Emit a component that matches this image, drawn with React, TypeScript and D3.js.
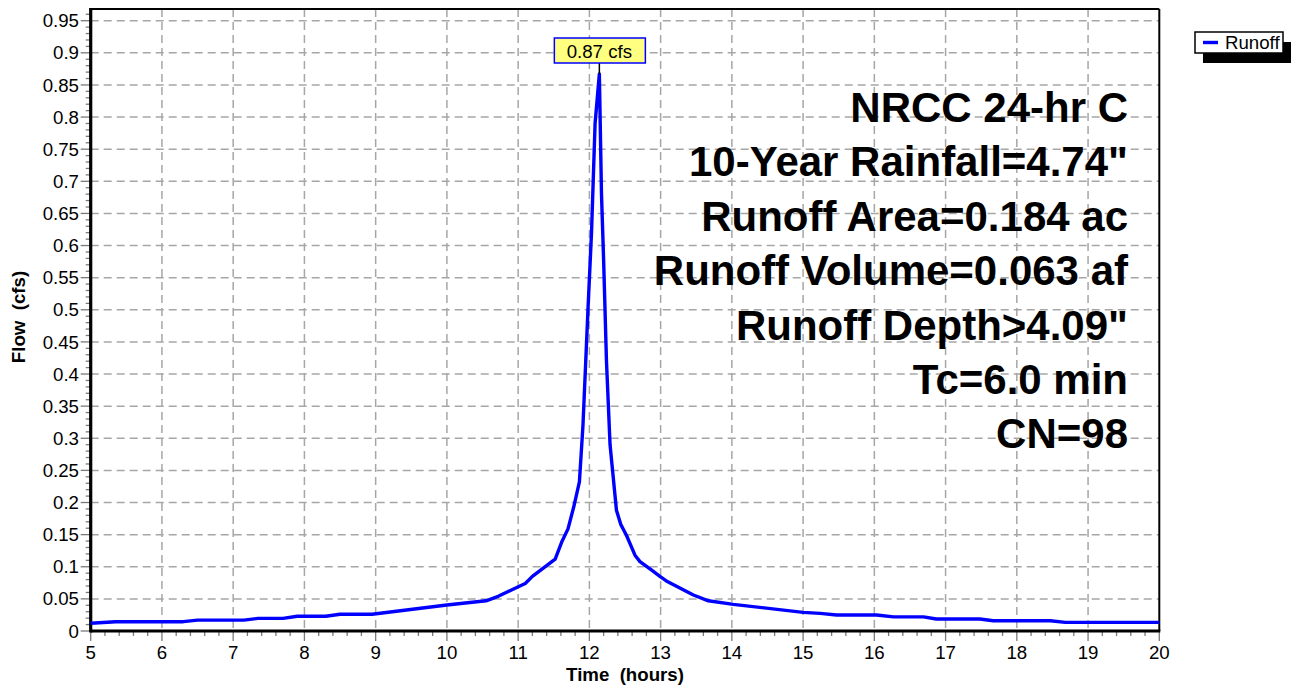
import React from 'react';
import * as d3 from 'd3';

// ---- data ----
const hours = [
  5.0, 5.35, 6.3, 6.5, 7.15, 7.35, 7.7, 7.9, 8.3, 8.5, 8.95,
  10.0, 10.55, 10.72, 11.1, 11.2, 11.52, 11.61, 11.7, 11.78, 11.86, 11.91,
  11.98, 12.03, 12.08, 12.14,
  12.17, 12.2, 12.24, 12.29, 12.38, 12.44, 12.52, 12.64, 12.71, 12.87, 12.99,
  13.08, 13.46, 13.67, 14.02, 15.0, 15.24, 15.47, 16.03, 16.27, 16.69, 16.87,
  17.48, 17.67, 18.47, 18.68, 20.0,
];
const flowCfs = [
  0.012, 0.0145, 0.0145, 0.017, 0.017, 0.0197, 0.0197, 0.023, 0.023, 0.026, 0.026,
  0.0405, 0.047, 0.054, 0.074, 0.085, 0.112, 0.138, 0.159, 0.193, 0.232, 0.32,
  0.5, 0.62, 0.79, 0.867,
  0.68, 0.577, 0.42, 0.29, 0.188, 0.166, 0.149, 0.118, 0.108, 0.095, 0.085,
  0.078, 0.056, 0.047, 0.0415, 0.029, 0.0275, 0.025, 0.025, 0.022, 0.022, 0.0187,
  0.0187, 0.016, 0.016, 0.0135, 0.0135,
];
const xTickValues = [5, 6, 7, 8, 9, 10, 11, 12, 13, 14, 15, 16, 17, 18, 19, 20];
const yTickValues = [0, 0.05, 0.1, 0.15, 0.2, 0.25, 0.3, 0.35, 0.4, 0.45, 0.5, 0.55, 0.6, 0.65, 0.7, 0.75, 0.8, 0.85, 0.9, 0.95];
const yTickLabels = ['0', '0.05', '0.1', '0.15', '0.2', '0.25', '0.3', '0.35', '0.4', '0.45', '0.5', '0.55', '0.6', '0.65', '0.7', '0.75', '0.8', '0.85', '0.9', '0.95'];
const infoLines = [
  'NRCC 24-hr C',
  '10-Year Rainfall=4.74"',
  'Runoff Area=0.184 ac',
  'Runoff Volume=0.063 af',
  'Runoff Depth>4.09"',
  'Tc=6.0 min',
  'CN=98',
];
const peakLabel = '0.87 cfs';
const seriesName = 'Runoff';
const xTitle = 'Time  (hours)';
const yTitle = 'Flow  (cfs)';

const FONT = "'Liberation Sans', Arial, sans-serif";
const W = 1294;
const H = 685;
const left = 90.7;
const right = 1159.3;
const top = 9;
const bottom = 631;

export default function App() {
  const x = d3.scaleLinear().domain([5, 20]).range([left, right]);
  const y = d3.scaleLinear().domain([0, 0.95]).range([bottom, 20.7]);

  const line = d3
    .line<number>()
    .x((_, i) => x(hours[i]))
    .y((d) => y(d));

  const xMinor = d3.range(5, 20.0001, 0.2);
  const yMinor = d3.range(0, 0.9601, 0.01);

  const peakIdx = d3.maxIndex(flowCfs);
  const px = x(hours[peakIdx]);
  const py = y(flowCfs[peakIdx]);

  const gridColor = '#a6a6a6';
  const tickColor = '#7a7a7a';

  return (
    <svg
      width={W}
      height={H}
      style={{ position: 'absolute', left: 0, top: 0, background: '#fff' }}
      fontFamily={FONT}
    >
      <rect x={0} y={0} width={W} height={H} fill="#fff" />
      {/* grid */}
      {xTickValues.slice(1, -1).map((t) => (
        <line key={'gx' + t} x1={x(t)} x2={x(t)} y1={top} y2={bottom} stroke={gridColor} strokeWidth={1.5} strokeDasharray="8 5" />
      ))}
      {yTickValues.slice(1).map((v) => (
        <line key={'gy' + v} x1={left} x2={right} y1={y(v)} y2={y(v)} stroke={gridColor} strokeWidth={1.5} strokeDasharray="8 5" />
      ))}

      {/* y ticks */}
      {yMinor.map((v, i) => (
        <line key={'ym' + i} x1={left - (i % 5 === 0 ? 10 : 5)} x2={left} y1={y(v)} y2={y(v)} stroke={tickColor} strokeWidth={1.3} />
      ))}
      {yTickValues.map((v, i) => (
        <text key={'yl' + i} x={79} y={y(v) + 6.6} fontSize={18.67} textAnchor="end" fill="#000">
          {yTickLabels[i]}
        </text>
      ))}
      {/* x ticks */}
      {xMinor.map((t, i) => (
        <line key={'xm' + i} x1={x(t)} x2={x(t)} y1={bottom} y2={bottom + (i % 5 === 0 ? 10 : 5)} stroke={tickColor} strokeWidth={1.3} />
      ))}
      {xTickValues.map((t) => (
        <text key={'xl' + t} x={x(t)} y={659.3} fontSize={18.67} textAnchor="middle" fill="#000">
          {t}
        </text>
      ))}

      {/* frame */}
      <line x1={left} x2={right} y1={top} y2={top} stroke="#000" strokeWidth={2} />
      <line x1={right} x2={right} y1={top} y2={bottom} stroke="#000" strokeWidth={2} />
      <line x1={left} x2={left} y1={top - 1} y2={bottom + 1.5} stroke="#000" strokeWidth={3.2} />
      <line x1={left} x2={right + 1} y1={bottom} y2={bottom} stroke="#000" strokeWidth={3} />

      {/* series */}
      <path d={line(flowCfs) || ''} fill="none" stroke="#0000ff" strokeWidth={3.4} strokeLinejoin="round" />

      {/* peak annotation */}
      <line x1={px} x2={px} y1={py} y2={63} stroke="#000" strokeWidth={1.5} />
      <rect x={px - 45} y={38} width={91} height={25} fill="#ffff80" stroke="#0000ff" strokeWidth={1.5} />
      <text x={px} y={57.5} fontSize={18.67} textAnchor="middle" fill="#000">
        {peakLabel}
      </text>

      {/* info text */}
      {infoLines.map((s, i) => (
        <text key={'info' + i} x={1128} y={122 + i * 54.4} fontSize={42} fontWeight="bold" textAnchor="end" fill="#000">
          {s}
        </text>
      ))}

      {/* axis titles */}
      <text x={(left + right) / 2} y={681} fontSize={18.67} fontWeight="bold" textAnchor="middle" fill="#000" style={{ whiteSpace: 'pre' }}>
        {xTitle}
      </text>
      <text
        transform={`translate(25,${(top + bottom) / 2 - 3}) rotate(-90)`}
        fontSize={18.67}
        fontWeight="bold"
        textAnchor="middle"
        fill="#000"
        style={{ whiteSpace: 'pre' }}
      >
        {yTitle}
      </text>

      {/* legend */}
      <rect x={1203} y={42} width={88} height={21} fill="#000" />
      <rect x={1195} y={32} width={88} height={21} fill="#fff" stroke="#000" strokeWidth={1.5} />
      <line x1={1203} x2={1218} y1={42.5} y2={42.5} stroke="#0000ff" strokeWidth={3.4} />
      <text x={1225} y={49} fontSize={18.67} fill="#000">
        {seriesName}
      </text>
    </svg>
  );
}
